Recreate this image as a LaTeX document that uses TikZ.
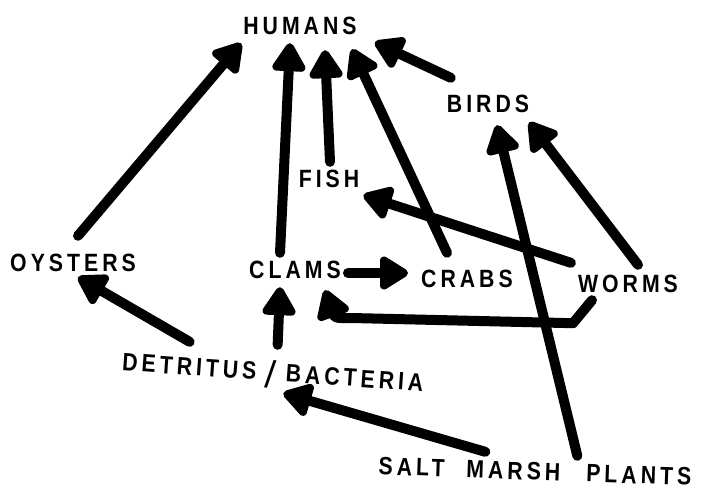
\documentclass[tikz,border=0pt]{standalone}
\usepackage{fontspec}
\usetikzlibrary{arrows.meta}
\newfontfamily\webfont[FakeStretch=0.85,LetterSpace=16]{Liberation Sans Bold}
\newfontfamily\slashfont{Liberation Sans}

\begin{document}
\begin{tikzpicture}[
  x=1pt, y=-1pt,
  every node/.style={font=\webfont\fontsize{25}{25}\selectfont, inner sep=0pt,
    text height=18pt, text depth=0pt},
  feed/.style={draw, line width=10pt, line cap=round, line join=round,
    -{Triangle[length=32pt, width=37pt, round]}}
]
\useasboundingbox (0,0) rectangle (712,493);
\node (hum) at (300,25) {HUMANS};
\node (bir) at (488,103) {BIRDS};
\node (fis) at (329,178) {FISH};
\node (oys) at (73,262) {OYSTERS};
\node (cla) at (295,269) {CLAMS};
\node (cra) at (467,278) {CRABS};
\node (wor) at (628,283) {WORMS};
\node[rotate=-4] (det) at (273,372)
  {DETRITUS\hspace{9pt}\raisebox{-7pt}{\slashfont\fontsize{38}{38}\selectfont/}\hspace{10pt}BACTERIA};
\node[rotate=-2] (sal) at (535,471)
  {SALT\hspace{22pt}MARSH\hspace{26pt}PLANTS};

\draw[feed] ([shift={(5,-17)}]oys.north) -- ([shift={(-2,9)}]hum.south west);
\draw[feed] ([shift={(-15,-7)}]cla.north) -- ([shift={(-10,9)}]hum.south);
\draw[feed] ([shift={(1,-7)}]fis.north) -- ([shift={(25,16)}]hum.south);
\draw[feed] ([shift={(-20,-16)}]cra.north) -- ([shift={(52,15)}]hum.south);
\draw[feed] ([shift={(4,-16)}]bir.north west) -- ([shift={(18,8)}]hum.south east);
\draw[feed] ([shift={(42,-6)}]sal.north) -- ([shift={(9,13)}]bir.south);
\draw[feed] ([shift={(10,-9)}]wor.north) -- ([shift={(0,10)}]bir.south east);
\draw[feed] ([shift={(-7,-11)}]wor.north west) -- ([shift={(4,8)}]fis.south east);
\draw[feed] ([shift={(7,4)}]cla.east) -- ([shift={(-13,-5)}]cra.west);
\draw[feed] ([shift={(-36,8)}]wor.south) -- ++(-19,23)
  -- ([shift={(65,40)}]cla.south) .. controls ([shift={(40,40)}]cla.south)
  .. ([shift={(30,12)}]cla.south);
\draw[feed] ([shift={(4,-18)}]det.north) -- ([shift={(-15,9)}]cla.south);
\draw[feed] ([shift={(-84,-21)}]det.north) -- ([shift={(5,6)}]oys.south);
\draw[feed] ([shift={(-50,-10)}]sal.north) -- ([shift={(11,12)}]det.south);
\end{tikzpicture}
\end{document}
